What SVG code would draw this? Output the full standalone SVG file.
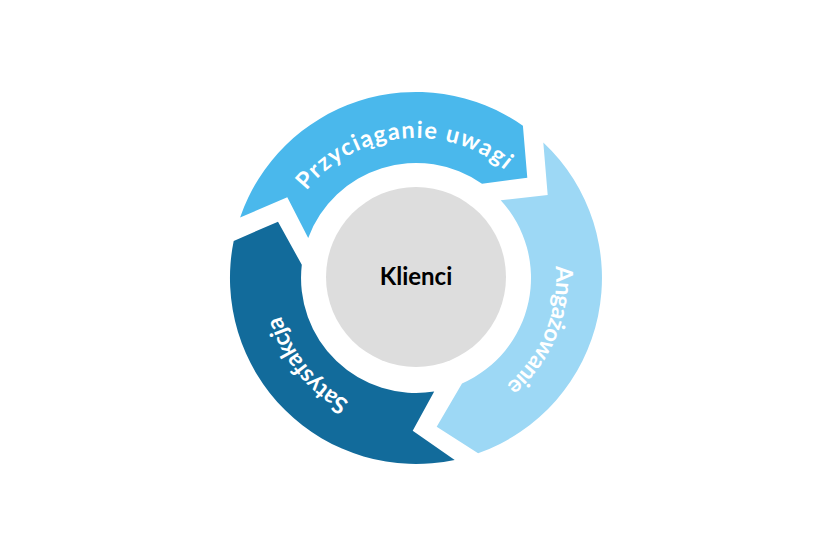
<svg xmlns="http://www.w3.org/2000/svg" width="834" height="555" viewBox="0 0 834 555">
  <style>
    .seg-label { font-family: Lato, "Liberation Sans", sans-serif; font-weight: 700; font-size: 23.5px; fill: #ffffff; }
    .center-label { font-family: Lato, "Liberation Sans", sans-serif; font-weight: 700; font-size: 24px; fill: #000000; }
  </style>
  <defs>
    <path id="arc-top" d="M 283.6 232.4 A 140 140 0 0 1 536.0 205.9"/>
    <path id="arc-right" d="M 519.2 183.4 A 140 140 0 0 1 422.1 417.9"/>
    <path id="arc-left" d="M 448.9 414.1 A 140 140 0 0 1 290.6 215.8"/>
  </defs>
  <rect width="834" height="555" fill="#ffffff"/>
  <g id="connectors"></g>
  <g id="node-przyciaganie">
    <path d="M 240.1 217.4 A 186 186 0 0 1 522.9 125.8 L 527.3 177.7 L 482.0 183.8 A 115 115 0 0 0 308.2 237.9 L 287.3 197.3 Z" fill="#4ab8ec"/>
    <text class="seg-label"><textPath href="#arc-top" startOffset="50%" text-anchor="middle" textLength="222" lengthAdjust="spacing">Przyciąganie uwagi</textPath></text>
  </g>
  <g id="node-angazowanie">
    <path d="M 543.3 142.4 A 186 186 0 0 1 478.1 453.3 L 436.7 426.7 L 462.0 383.4 A 115 115 0 0 0 500.7 200.2 L 547.7 195.0 Z" fill="#9dd8f5"/>
    <text class="seg-label"><textPath href="#arc-right" startOffset="50%" text-anchor="middle" textLength="134" lengthAdjust="spacing">Angażowanie</textPath></text>
  </g>
  <g id="node-satysfakcja">
    <path d="M 454.7 459.9 A 186 186 0 0 1 233.7 240.9 L 278.0 221.7 L 301.8 264.8 A 115 115 0 0 0 434.2 391.6 L 412.7 430.7 Z" fill="#126b9b"/>
    <text class="seg-label"><textPath href="#arc-left" startOffset="50%" text-anchor="middle" textLength="112" lengthAdjust="spacing">Satysfakcja</textPath></text>
  </g>
  <g id="node-klienci">
    <circle cx="416" cy="277" r="90" fill="#dddddd"/>
    <text class="center-label" x="416" y="285" text-anchor="middle">Klienci</text>
  </g>
</svg>
